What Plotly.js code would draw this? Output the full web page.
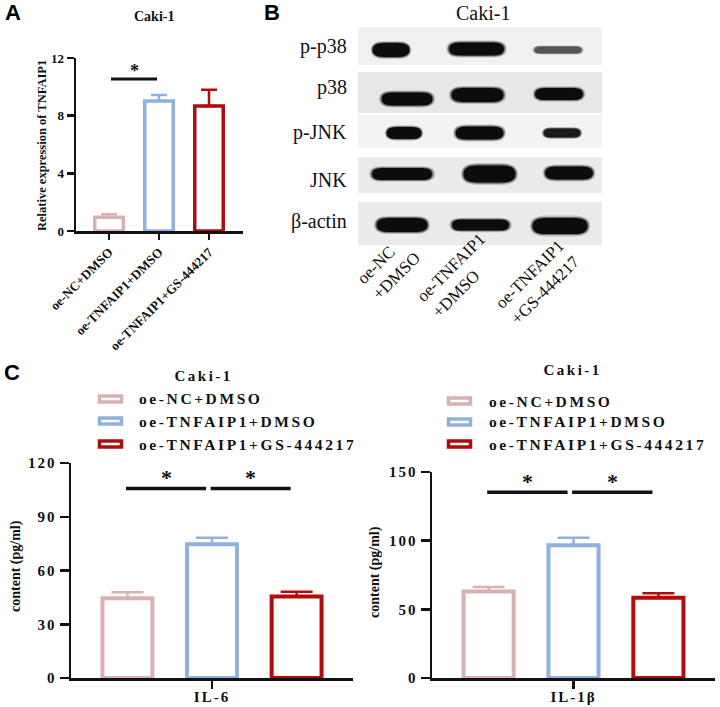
<!DOCTYPE html>
<html><head><meta charset="utf-8">
<script src="https://cdn.plot.ly/plotly-3.0.1.min.js"></script>
<style>html,body{margin:0;padding:0;background:#fff}#chart{width:720px;height:707px}</style>
</head><body><div id="chart"></div>
<script>
// ---------------- data ----------------
const groups = ['oe-NC+DMSO', 'oe-TNFAIP1+DMSO', 'oe-TNFAIP1+GS-444217'];
const colors = ['#dbb0b3', '#8fb1de', '#b00c0c'];
// Panel A: relative expression of TNFAIP1
const aMean = [0.95, 9.02, 8.67];
const aErr  = [0.21, 0.41, 1.13];
const aTicks = [0, 4, 8, 12];
// Panel C: ELISA
const il6Mean = [44.5, 74.6, 45.5];
const il6Err  = [3.4, 3.7, 2.6];
const il6Ticks = [0, 30, 60, 90, 120];
const il1bMean = [62.9, 96.6, 58.5];
const il1bErr  = [3.4, 5.6, 3.2];
const il1bTicks = [0, 50, 100, 150];
const sigPairsA = [[0, 1]];
const sigPairsC = [[0, 1], [1, 2]];
const sigLevelA = 10.54, sigLevelIL6 = 105.8, sigLevelIL1b = 135.2;
// Panel B: western blot (band size / darkness)
const blotRows = ['p-p38', 'p38', 'p-JNK', 'JNK', 'β-actin'];
const laneLabels = ['oe-NC<br>+DMSO', 'oe-TNFAIP1<br>+DMSO', 'oe-TNFAIP1<br>+GS-444217'];
const bandWidth  = [[37, 55, 47], [51, 52, 48], [35, 48, 37], [60, 52, 48], [51, 57, 55]];
const bandHeight = [[14, 13, 7], [13, 14, 12], [12, 13, 9], [12, 17, 13], [14, 11, 16]];
const bandDark   = [[1, 1, 0.6], [1, 1, 1], [1, 1, 0.92], [1, 1, 1], [1, 1, 1]];

// ---------------- layout helpers ----------------
const W = 720, H = 707;
const P = px => px / W, Q = py => 1 - py / H;
const serif = 'Liberation Serif, Times New Roman, serif';
const sans = 'Liberation Sans, Arial, sans-serif';
const ink = '#111';
const traces = [], shapes = [], annotations = [], spaced = {};
function ann(o, ls) {
  annotations.push(Object.assign({showarrow: false, xanchor: 'center', yanchor: 'middle'}, o));
  if (ls) spaced[annotations.length - 1] = ls;
}

// ---------------- Panel A ----------------
groups.forEach((g, i) => {
  traces.push({type: 'bar', x: [i], y: [aMean[i]], xaxis: 'x', yaxis: 'y', width: 0.57,
    marker: {color: '#fff', line: {color: colors[i], width: 3.5}},
    error_y: {type: 'data', symmetric: false, array: [aErr[i]], arrayminus: [0], color: colors[i], thickness: 2.5, width: 8},
    showlegend: false, hoverinfo: 'skip'});
});
const centersA = [0, 1, 2];
sigPairsA.forEach(p => {
  const x0 = centersA[p[0]] + 0.04, x1 = centersA[p[1]] - 0.04;
  traces.push({type: 'scatter', mode: 'lines', x: [x0, x1], y: [sigLevelA, sigLevelA], xaxis: 'x', yaxis: 'y',
    line: {color: ink, width: 3}, cliponaxis: false, showlegend: false, hoverinfo: 'skip'});
  ann({xref: 'x', yref: 'y', x: (x0 + x1) / 2, y: sigLevelA, yanchor: 'bottom', yshift: -4, text: '*',
    font: {family: serif, size: 18, color: ink, weight: 'bold'}});
});

// ---------------- Panel C ----------------
const spacingC = 0.3, widthC = 0.177;
const centersC = groups.map((g, i) => (i - 1) * spacingC);
function cPanel(xa, ya, mean, err, level) {
  groups.forEach((g, i) => {
    traces.push({type: 'bar', x: [0], y: [mean[i]], xaxis: xa, yaxis: ya, width: widthC, offset: centersC[i] - widthC / 2,
      marker: {color: '#fff', line: {color: colors[i], width: 4}},
      error_y: {type: 'data', symmetric: false, array: [err[i]], arrayminus: [0], color: colors[i], thickness: 2.5, width: 16},
      showlegend: false, hoverinfo: 'skip'});
  });
  sigPairsC.forEach(p => {
    const x0 = centersC[p[0]] - 0.005, x1 = centersC[p[1]] - 0.021;
    traces.push({type: 'scatter', mode: 'lines', x: [x0, x1], y: [level, level], xaxis: xa, yaxis: ya,
      line: {color: ink, width: 3.5}, cliponaxis: false, showlegend: false, hoverinfo: 'skip'});
    ann({xref: xa, yref: ya, x: (x0 + x1) / 2, y: level, yanchor: 'bottom', yshift: -4, text: '*',
      font: {family: serif, size: 22, color: ink, weight: 'bold'}});
  });
}
cPanel('x2', 'y2', il6Mean, il6Err, sigLevelIL6);
cPanel('x3', 'y3', il1bMean, il1bErr, sigLevelIL1b);

// manual legends for panel C
function cLegend(sx, tx, ys) {
  groups.forEach((g, i) => {
    shapes.push({type: 'rect', xref: 'paper', yref: 'paper', x0: P(sx + 1.5), x1: P(sx + 23.5), y0: Q(ys[i] + 3), y1: Q(ys[i] - 3),
      line: {color: colors[i], width: 3.5}, fillcolor: '#fff'});
    ann({xref: 'paper', yref: 'paper', x: P(tx), y: Q(ys[i]), xanchor: 'left', align: 'left', text: g,
      font: {family: serif, size: 15.5, color: ink, weight: 'bold'}}, 2.6);
  });
}
cLegend(98, 137, [399, 421, 444]);
cLegend(447, 487, [401, 422, 444]);

// ---------------- Panel B (blot) ----------------
// blot y units: px from blot top
const stripY = [[1, 39], [46, 87], [89, 122], [131, 167], [176, 219]];
const stripFill = ['#f1f1f1', '#e8e8e8', '#f3f3f3', '#ebebeb', '#ebebeb'];
const rowCenter = [24, 70, 107, 148, 199];
const bandDx = [[-9, -4, -3], [7, -3, -2], [4, -1, 1], [2, 9, 8], [2, 0, -1]];
const bandDy = [[0, -1, 0], [3, -1, -2], [0, 0, 0], [0, 0, -1], [0, 0, 1]];
const laneSpacingPx = 80.5;
blotRows.forEach((r, ri) => {
  shapes.push({type: 'rect', xref: 'x4 domain', yref: 'y4', x0: 0, x1: 1, y0: stripY[ri][0], y1: stripY[ri][1],
    line: {width: 0}, fillcolor: stripFill[ri], layer: 'below'});
});
function blob(xc, yc, wpx, hpx) {
  const hw = wpx / 2 / laneSpacingPx, hh = hpx / 2;
  const rx = Math.min(hpx * 0.8, wpx / 2) / laneSpacingPx;
  const x0 = xc - hw, x1 = xc + hw, y0 = yc - hh, y1 = yc + hh;
  return `M${x0 + rx},${y0} L${x1 - rx},${y0} Q${x1},${y0} ${x1},${yc} Q${x1},${y1} ${x1 - rx},${y1} L${x0 + rx},${y1} Q${x0},${y1} ${x0},${yc} Q${x0},${y0} ${x0 + rx},${y0} Z`;
}
blotRows.forEach((r, ri) => {
  [0, 1, 2].forEach(li => {
    const xc = li + bandDx[ri][li] / laneSpacingPx, yc = rowCenter[ri] + bandDy[ri][li];
    const w = bandWidth[ri][li], h = bandHeight[ri][li], d = bandDark[ri][li];
    const g = Math.round(12 + (1 - d) * 180);
    const col = `rgb(${g},${g},${g})`;
    [[1.1, 1.3, 0.2], [1.05, 1.14, 0.45], [1.0, 1.0, 1]].forEach(s => {
      shapes.push({type: 'path', xref: 'x4', yref: 'y4', path: blob(xc, yc, w * s[0], h * s[1]),
        line: {width: 0}, fillcolor: col, opacity: s[2], layer: 'above'});
    });
  });
});
traces.push({type: 'scatter', mode: 'markers', x: [0, 1, 2], y: [rowCenter[0], rowCenter[0], rowCenter[0]], xaxis: 'x4', yaxis: 'y4',
  marker: {size: 1, opacity: 0}, showlegend: false, hoverinfo: 'skip'});
const rowLabelY = [46.5, 87.5, 133, 180, 221.5];
blotRows.forEach((r, ri) => ann({xref: 'paper', yref: 'paper', x: P(349), y: Q(rowLabelY[ri]), xanchor: 'right',
  text: r, font: {family: serif, size: 20, color: ink}}));
const laneLabelCenter = [[388, 268], [459, 276], [537, 282]];
laneLabels.forEach((l, li) => ann({xref: 'paper', yref: 'paper', x: P(laneLabelCenter[li][0]), y: Q(laneLabelCenter[li][1]),
  text: l, textangle: -45, align: 'left', font: {family: serif, size: 17, color: ink}}));

// ---------------- titles / panel letters ----------------
ann({xref: 'paper', yref: 'paper', x: P(12.5), y: Q(13), text: 'A', font: {family: sans, size: 22, color: '#000', weight: 'bold'}});
ann({xref: 'paper', yref: 'paper', x: P(271.5), y: Q(12.5), text: 'B', font: {family: sans, size: 22, color: '#000', weight: 'bold'}});
ann({xref: 'paper', yref: 'paper', x: P(11.5), y: Q(372.5), text: 'C', font: {family: sans, size: 22, color: '#000', weight: 'bold'}});
ann({xref: 'paper', yref: 'paper', x: P(154), y: Q(16), text: 'Caki-1', font: {family: serif, size: 14, color: ink, weight: 'bold'}});
ann({xref: 'paper', yref: 'paper', x: P(483), y: Q(13), text: 'Caki-1', font: {family: serif, size: 20, color: ink}});
ann({xref: 'paper', yref: 'paper', x: P(203), y: Q(376), text: 'Caki-1', font: {family: serif, size: 15, color: ink, weight: 'bold'}}, 2.5);
ann({xref: 'paper', yref: 'paper', x: P(572), y: Q(370), text: 'Caki-1', font: {family: serif, size: 15, color: ink, weight: 'bold'}}, 2.5);
ann({xref: 'paper', yref: 'paper', x: P(42), y: Q(146), textangle: -90, text: 'Relative expression of TNFAIP1', font: {family: serif, size: 12.5, color: ink, weight: 'bold'}});
ann({xref: 'paper', yref: 'paper', x: P(16), y: Q(566), textangle: -90, text: 'content (pg/ml)', font: {family: serif, size: 14, color: ink, weight: 'bold'}});
ann({xref: 'paper', yref: 'paper', x: P(375), y: Q(572), textangle: -90, text: 'content (pg/ml)', font: {family: serif, size: 14, color: ink, weight: 'bold'}});

// ---------------- axes ----------------
const base = {showgrid: false, zeroline: false, showline: true, linecolor: ink, linewidth: 2.5, ticks: 'outside', tickcolor: ink,
  tickwidth: 2.5, automargin: false, fixedrange: true};
const tf = s => ({family: serif, size: s, color: ink, weight: 'bold'});
const layout = {
  width: W, height: H, margin: {l: 0, r: 0, t: 0, b: 0}, paper_bgcolor: '#fff', plot_bgcolor: 'rgba(0,0,0,0)',
  showlegend: false, hovermode: false,
  xaxis: Object.assign({}, base, {domain: [P(76), P(243)], anchor: 'y', range: [-0.66, 2.68], tickvals: [0, 1, 2], ticktext: groups,
    tickangle: -45, ticklen: 6, tickfont: tf(13)}),
  yaxis: Object.assign({}, base, {domain: [Q(231), Q(58)], anchor: 'x', range: [0, 12], tickvals: aTicks, ticklen: 7, tickfont: tf(13)}),
  xaxis2: Object.assign({}, base, {domain: [P(71), P(353)], anchor: 'y2', range: [-0.5, 0.5], tickvals: [0], ticktext: ['IL-6'],
    ticklen: 8, tickfont: tf(15), ticklabelstandoff: -5}),
  yaxis2: Object.assign({}, base, {domain: [Q(678), Q(463)], anchor: 'x2', range: [0, 120], tickvals: il6Ticks, ticklen: 9, tickfont: tf(15)}),
  xaxis3: Object.assign({}, base, {domain: [P(432), P(715)], anchor: 'y3', range: [-0.5, 0.5], tickvals: [0], ticktext: ['IL-1β'],
    ticklen: 8, tickfont: tf(15), ticklabelstandoff: -5}),
  yaxis3: Object.assign({}, base, {domain: [Q(678), Q(472)], anchor: 'x3', range: [0, 150], tickvals: il1bTicks, ticklen: 9, tickfont: tf(15)}),
  xaxis4: {domain: [P(358), P(602)], anchor: 'y4', range: [-0.522, 2.509], visible: false, fixedrange: true},
  yaxis4: {domain: [Q(245), Q(26)], anchor: 'x4', range: [219, 0], visible: false, fixedrange: true},
  shapes: shapes, annotations: annotations
};

Plotly.newPlot('chart', traces, layout, {staticPlot: true, displayModeBar: false}).then(() => {
  document.querySelectorAll('g.annotation').forEach(g => {
    const idx = +g.getAttribute('data-index');
    if (spaced[idx]) { const t = g.querySelector('text'); if (t) t.style.letterSpacing = spaced[idx] + 'px'; }
  });
  document.querySelectorAll('.x2tick text, .x3tick text, .y2tick text, .y3tick text').forEach(t => { t.style.letterSpacing = '2px'; });
});
</script></body></html>
